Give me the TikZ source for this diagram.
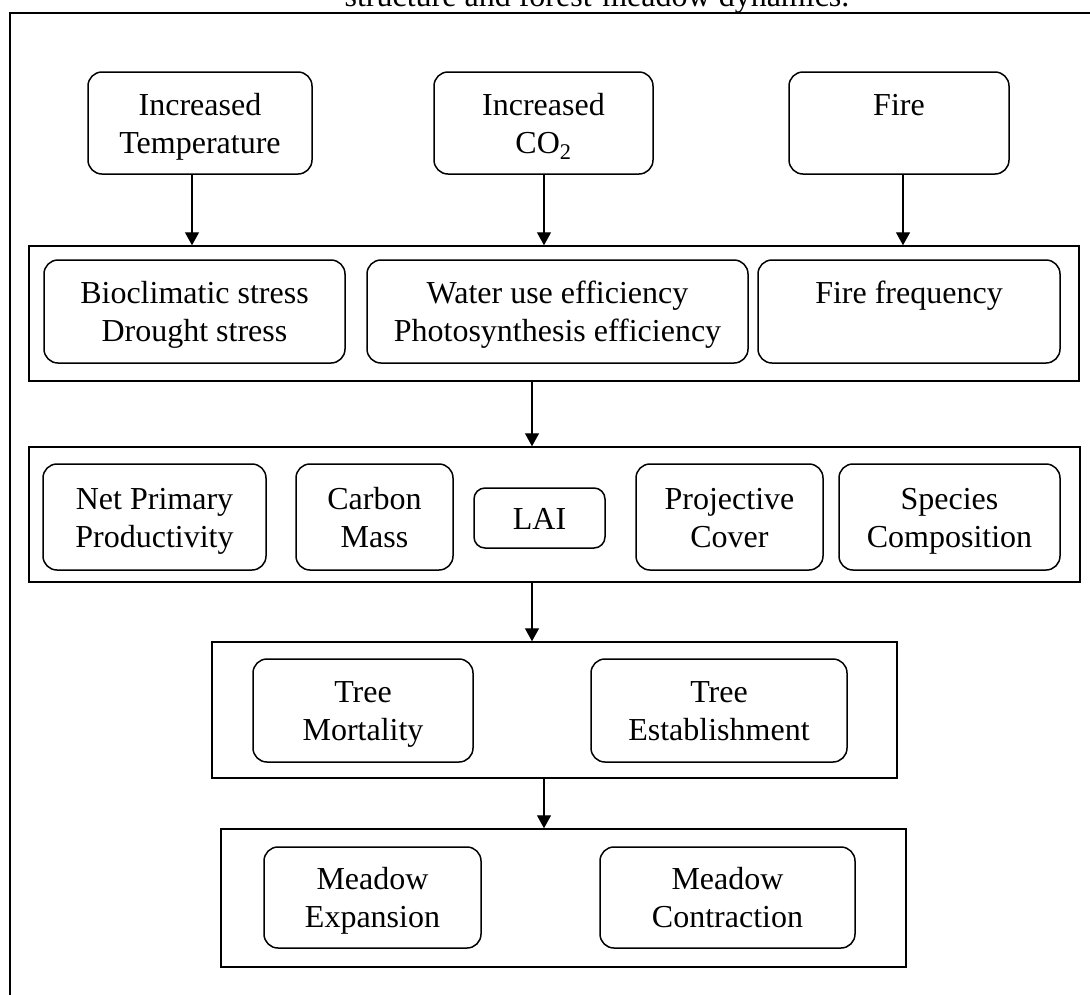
\documentclass[tikz,border=0pt]{standalone}
\usepackage{fontspec}
\setmainfont{Liberation Serif}
\usetikzlibrary{arrows.meta}

\begin{document}
\begin{tikzpicture}[x=1pt,y=-1pt]
	\tikzstyle{driver}=[rectangle, rounded corners=14pt, draw=black, line width=1.5pt, align=center, inner sep=0pt, text height=64pt, text depth=4pt, font=\fontsize{32}{38}\selectfont]
	\tikzstyle{level}=[rectangle, draw=black, line width=1.5pt, inner sep=0pt]
	\tikzstyle{flow}=[-{Triangle[width=14pt,length=13pt]}, line width=1.4pt]
	\useasboundingbox (0,0) rectangle (1090,994);
	\clip (0,0) rectangle (1090,994);

	% caption and frame, both cut off by the page
	\node[anchor=base, inner sep=0pt, font=\fontsize{32}{38}\selectfont] (caption) at (597,6) {structure and forest-meadow dynamics.};
	\draw[line width=1.5pt] (10,13) rectangle (1120,1030);

	% climate drivers
	\node[driver, minimum width=224pt, minimum height=102pt] (temp) at (200,123) {Increased\\Temperature};
	\node[driver, minimum width=219pt, minimum height=102pt] (co2) at (543.5,123) {Increased\\CO\textsubscript{2}};
	\node[driver, minimum width=220pt, minimum height=102pt] (fire) at (899,123) {Fire\\~};

	% first level
	\node[level, minimum width=1050pt, minimum height=135pt] (stress) at (554,313.5) {};
	\node[driver, minimum width=301pt, minimum height=103pt] (bioclim) at (194.5,311.5) {Bioclimatic stress\\Drought stress};
	\node[driver, minimum width=381pt, minimum height=103pt] (wue) at (557.5,311.5) {Water use efficiency\\Photosynthesis efficiency};
	\node[driver, minimum width=302pt, minimum height=103pt] (firefreq) at (909,311.5) {Fire frequency\\~};

	% second level
	\node[level, minimum width=1051pt, minimum height=135pt] (veg) at (554.5,514.5) {};
	\node[driver, minimum width=223pt, minimum height=106pt] (npp) at (154.5,517) {Net Primary\\Productivity};
	\node[driver, minimum width=157pt, minimum height=106pt] (carbon) at (374.5,517) {Carbon\\Mass};
	\node[driver, minimum width=131pt, minimum height=60pt, rounded corners=11pt, text height=26pt] (lai) at (539.5,518) {LAI};
	\node[driver, minimum width=187pt, minimum height=106pt] (cover) at (729.5,517) {Projective\\Cover};
	\node[driver, minimum width=221pt, minimum height=106pt] (species) at (949.5,517) {Species\\Composition};

	% third level
	\node[level, minimum width=685pt, minimum height=136pt] (trees) at (554.5,710) {};
	\node[driver, minimum width=220pt, minimum height=103pt] (mortality) at (363,710.5) {Tree\\Mortality};
	\node[driver, minimum width=256pt, minimum height=103pt] (establish) at (719,710.5) {Tree\\Establishment};

	% fourth level
	\node[level, minimum width=685pt, minimum height=138pt] (meadow) at (563.5,898) {};
	\node[driver, minimum width=217pt, minimum height=101pt] (expansion) at (372.5,897.5) {Meadow\\Expansion};
	\node[driver, minimum width=255pt, minimum height=101pt] (contraction) at (727.5,897.5) {Meadow\\Contraction};

	\draw[flow] ([xshift=-8pt]temp.south) -- ([xshift=-8pt]temp.south |- stress.north);
	\draw[flow] ([xshift=0.5pt]co2.south) -- ([xshift=0.5pt]co2.south |- stress.north);
	\draw[flow] ([xshift=4pt]fire.south) -- ([xshift=4pt]fire.south |- stress.north);
	\draw[flow] ([xshift=-22pt]stress.south) -- ([xshift=-22pt]stress.south |- veg.north);
	\draw[flow] ([xshift=-22.5pt]veg.south) -- ([xshift=-22.5pt]veg.south |- trees.north);
	\draw[flow] ([xshift=-10.5pt]trees.south) -- ([xshift=-10.5pt]trees.south |- meadow.north);

\end{tikzpicture}
\end{document}
